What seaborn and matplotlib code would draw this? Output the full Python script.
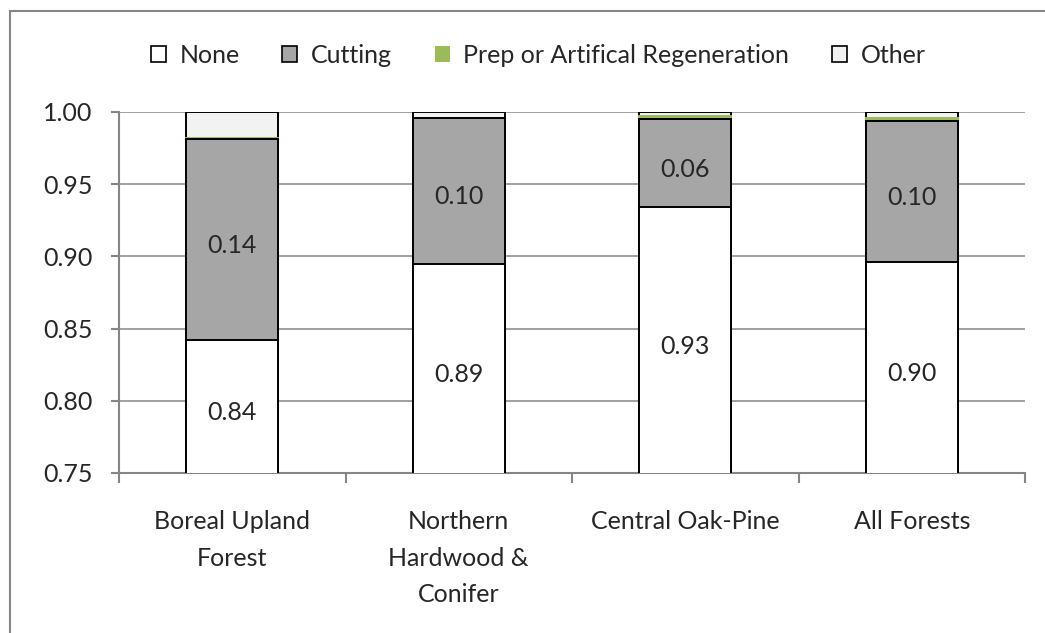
import matplotlib
matplotlib.use("Agg")
import numpy as np
import pandas as pd
import matplotlib.pyplot as plt
import seaborn as sns
from matplotlib.patches import Patch, Rectangle
from matplotlib.ticker import FixedLocator, FormatStrFormatter

# ------------------------------------------
# Data
# ------------------------------------------

forests = ["Boreal Upland\nForest", "Northern\nHardwood &\nConifer",
           "Central Oak-Pine", "All Forests"]
none_share = [0.842, 0.895, 0.934, 0.896]
cutting_share = [0.139, 0.101, 0.061, 0.098]
prep_share = [0.001, 0.000, 0.002, 0.002]
other_share = [0.018, 0.004, 0.003, 0.004]

none_labels = ["0.84", "0.89", "0.93", "0.90"]
cutting_labels = ["0.14", "0.10", "0.06", "0.10"]

colors = {"None": "#FFFFFF", "Cutting": "#A6A6A6",
          "Prep or Artifical Regeneration": "#9BBB59", "Other": "#F2F2F2"}

df = pd.DataFrame({"Forest": forests, "None": none_share,
                   "Cutting": cutting_share, "Prep": prep_share,
                   "Other": other_share})
df["c_none"] = df["None"]
df["c_cut"] = df["c_none"] + df["Cutting"]
df["c_prep"] = df["c_cut"] + df["Prep"]
df["c_other"] = df["c_prep"] + df["Other"]

# ------------------------------------------
# Plot
# ------------------------------------------

sns.set_style("white")
plt.rcParams["font.family"] = ["Lato", "DejaVu Sans"]
fs = 18

fig = plt.figure(figsize=(10.45, 6.33), dpi=100)
ax = fig.add_axes([0.1139, 0.2528, 0.867, 0.5703])

grid_col = "#868686"

# draw cumulative totals from the top segment down
layers = [("c_other", colors["Other"], "black"),
          ("c_prep", colors["Prep or Artifical Regeneration"], "#9BBB59"),
          ("c_cut", colors["Cutting"], "black"),
          ("c_none", colors["None"], "black")]
for col, fc, ec in layers:
    sns.barplot(data=df, x="Forest", y=col, color=fc, width=0.405,
                edgecolor=ec, linewidth=1.4, saturation=1, ax=ax, zorder=3)

# segment labels
for i in range(len(forests)):
    ax.annotate(none_labels[i], (i, (0.75 + df["c_none"][i]) / 2),
                xytext=(0, -3), textcoords="offset points",
                ha="center", va="center_baseline", fontsize=fs, zorder=5)
    ax.annotate(cutting_labels[i], (i, (df["c_none"][i] + df["c_cut"][i]) / 2),
                xytext=(0, -3), textcoords="offset points",
                ha="center", va="center_baseline", fontsize=fs, zorder=5)

ax.set_ylim(0.75, 1.0)
ax.set_xlim(-0.5, 3.5)
ax.yaxis.set_major_locator(FixedLocator(np.arange(0.75, 1.001, 0.05)))
ax.yaxis.set_major_formatter(FormatStrFormatter("%.2f"))
ax.set_xlabel("")
ax.set_ylabel("")

ax.grid(axis="y", color=grid_col, linewidth=1.1, zorder=0)
ax.set_axisbelow(True)

for side in ["top", "right"]:
    ax.spines[side].set_visible(False)
for side in ["left", "bottom"]:
    ax.spines[side].set_color(grid_col)
    ax.spines[side].set_linewidth(1.5)

ax.tick_params(axis="y", direction="out", length=6, width=1.5,
               color=grid_col, labelsize=fs, pad=13, left=True)
ax.set_xticks(np.arange(-0.5, 4, 1.0), minor=True)
ax.tick_params(axis="x", which="minor", direction="out", length=7,
               width=1.5, color=grid_col, bottom=True)
ax.tick_params(axis="x", which="major", length=0, labelsize=fs, pad=27)
for lab in ax.get_xticklabels():
    lab.set_linespacing(1.7)

# legend
handles = [Patch(facecolor=colors["None"], edgecolor="black", linewidth=1.2),
           Patch(facecolor=colors["Cutting"], edgecolor="black", linewidth=1.2),
           Patch(facecolor=colors["Prep or Artifical Regeneration"],
                 edgecolor="none"),
           Patch(facecolor=colors["Other"], edgecolor="black", linewidth=1.2)]
fig.legend(handles, list(colors.keys()), loc="center",
           bbox_to_anchor=(0.515, 0.913), ncol=4, frameon=False,
           fontsize=fs, handlelength=0.6, handleheight=0.6,
           handletextpad=0.55, columnspacing=1.7)

# chart border
fig.patches.append(Rectangle((10 / 1045, -0.1), 1.2, (633 - 11) / 633 + 0.1,
                             transform=fig.transFigure, fill=False,
                             edgecolor=grid_col, linewidth=1.5))

fig.savefig("out.png", dpi=100)
